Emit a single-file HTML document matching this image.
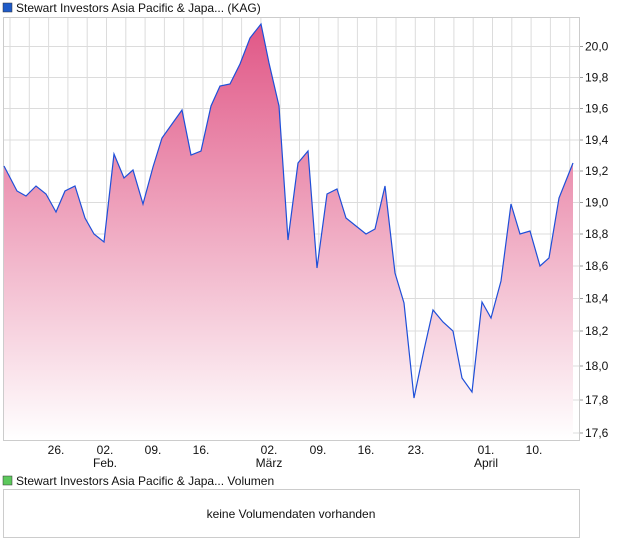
<!DOCTYPE html>
<html><head><meta charset="utf-8"><style>
body{margin:0;background:#fff;font-family:"Liberation Sans",sans-serif;}
</style></head><body>
<svg width="620" height="546" xmlns="http://www.w3.org/2000/svg" font-family="Liberation Sans, sans-serif" font-size="12">
<defs><linearGradient id="g" gradientUnits="userSpaceOnUse" x1="0" y1="20" x2="0" y2="440">
<stop offset="0" stop-color="#e05585"/><stop offset="1" stop-color="#ffffff"/></linearGradient></defs>
<rect x="3" y="3" width="9" height="9" fill="#1f5bc8" stroke="#333" stroke-width="0.5"/>
<text x="16" y="12" fill="#111">Stewart Investors Asia Pacific &amp; Japa... (KAG)</text>
<g stroke="#dcdcdc" stroke-width="1" id="grid"></g>
<rect x="3.5" y="17.5" width="576" height="423" fill="none" stroke="#ccc"/>
<path id="area" fill="url(#g)"/>
<path id="line" fill="none" stroke="#1f4fd8" stroke-width="1.2"/>
<g fill="#111" font-size="12" id="yl"></g>
<g fill="#111" font-size="12" text-anchor="middle">
<text x="56" y="454">26.</text><text x="105" y="454">02.</text><text x="105" y="467">Feb.</text>
<text x="153" y="454">09.</text><text x="201" y="454">16.</text><text x="269" y="454">02.</text><text x="269" y="467">März</text>
<text x="318" y="454">09.</text><text x="366" y="454">16.</text><text x="416" y="454">23.</text>
<text x="486" y="454">01.</text><text x="486" y="467">April</text><text x="534" y="454">10.</text>
</g>
<rect x="3" y="476" width="9" height="9" fill="#5cc85c" stroke="#333" stroke-width="0.5"/>
<text x="16" y="485" fill="#111">Stewart Investors Asia Pacific &amp; Japa... Volumen</text>
<rect x="3.5" y="489.5" width="576" height="48" fill="none" stroke="#ccc"/>
<text x="291" y="518" text-anchor="middle" fill="#111">keine Volumendaten vorhanden</text>
</svg>
<script>
const ns="http://www.w3.org/2000/svg";
const grid=document.getElementById('grid');
const ys={"20,0":46.5,"19,8":77.5,"19,6":108.5,"19,4":140,"19,2":171,"19,0":202.5,"18,8":234,"18,6":266,"18,4":298.5,"18,2":331,"18,0":366,"17,8":400,"17,6":433};
const yl=document.getElementById('yl');
for(const k in ys){let l=document.createElementNS(ns,'line');l.setAttribute('x1',3);l.setAttribute('x2',579);l.setAttribute('y1',ys[k]);l.setAttribute('y2',ys[k]);grid.appendChild(l);
let t=document.createElementNS(ns,'line');t.setAttribute('x1',579);t.setAttribute('x2',583);t.setAttribute('y1',ys[k]);t.setAttribute('y2',ys[k]);t.setAttribute('stroke','#999');grid.appendChild(t);
let tx=document.createElementNS(ns,'text');tx.setAttribute('x',585);tx.setAttribute('y',ys[k]+4);tx.textContent=k;yl.appendChild(tx);}
for(let x=203-19.3*10;x<579;x+=19.3){if(x<4)continue;let l=document.createElementNS(ns,'line');l.setAttribute('x1',x);l.setAttribute('x2',x);l.setAttribute('y1',17);l.setAttribute('y2',440);grid.appendChild(l);}
const p=[[4,166],[17,191],[26,196],[36,186],[46,194],[56,212],[65,191],[75,186],[85,218],[94,234],[104,242],[114,154],[124,178],[133,170],[143,204],[153,167],[162,138],[172,124],[182,110],[191,155],[201,151],[211,106],[220,86],[230,84],[240,64],[250,38],[261,24],[269,63],[279,106],[288,240],[298,163],[308,151],[317,268],[327,194],[337,189],[346,218],[356,226],[366,234],[375,229],[385,186],[395,273],[404,303],[414,398],[424,350],[433,310],[443,322],[453,331],[462,378],[472,392],[482,302],[491,318],[501,281],[511,204],[520,234],[530,231],[540,266],[549,258],[559,198],[573,163]];
let d=p.map((q,i)=>(i?'L':'M')+q[0]+','+q[1]).join('');
document.getElementById('line').setAttribute('d',d);
document.getElementById('area').setAttribute('d',d+'L573,440L4,440Z');
</script>
</body></html>
